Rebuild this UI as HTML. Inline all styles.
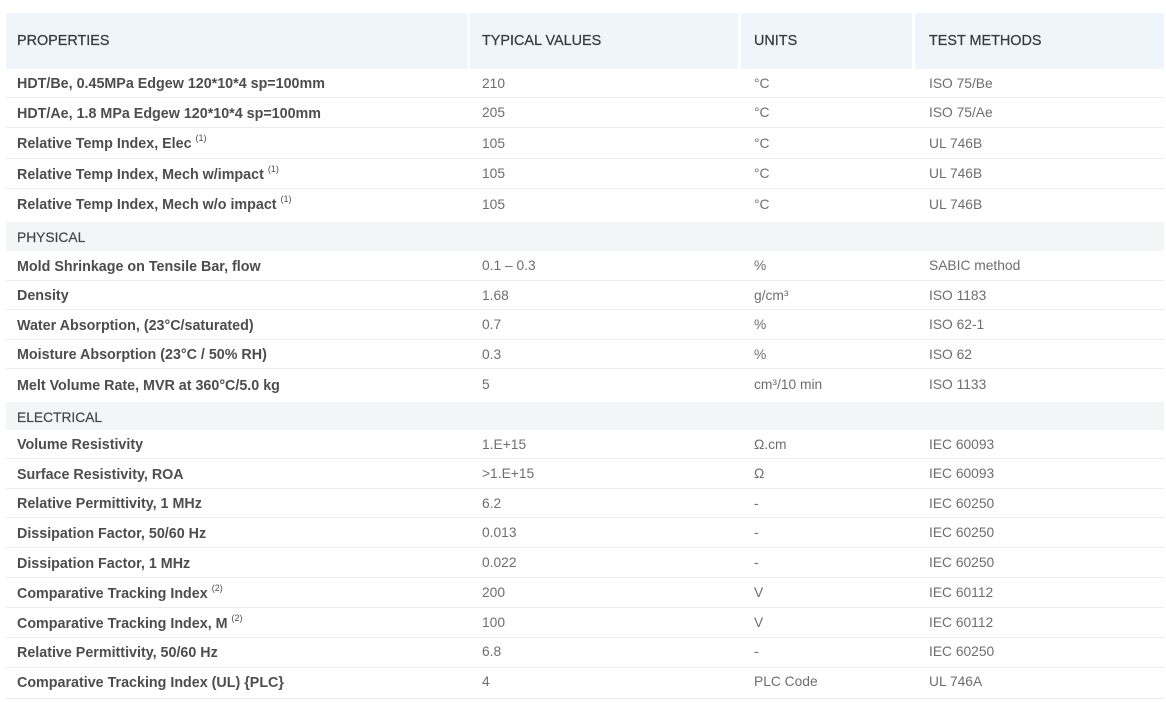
<!DOCTYPE html>
<html><head><meta charset="utf-8">
<style>
html,body{margin:0;padding:0;background:#fff;}
body{width:1166px;height:702px;overflow:hidden;position:relative;font-family:"Liberation Sans","DejaVu Sans",sans-serif;}
.h{position:absolute;top:13px;height:56px;line-height:57px;background:#eff6fb;color:#3a3a3a;font-size:14.4px;box-sizing:border-box;-webkit-text-stroke:0.25px #3a3a3a;}
.r{position:absolute;left:6px;width:1158px;}
.r div{position:absolute;top:0;height:100%;white-space:nowrap;}
.r .c1{left:11px;top:1px;font-weight:bold;color:#4d4d4d;font-size:14.3px;}
.c2{left:476px;color:#6e6e6e;font-size:13.8px;}
.c3{left:748px;color:#6e6e6e;font-size:13.8px;}
.c4{left:923px;color:#6e6e6e;font-size:13.8px;}
.sec{background:#f4f5f6;}
.sec .c1{font-weight:normal;color:#454545;font-size:13.8px;-webkit-text-stroke:0.2px #454545;}
.ln{position:absolute;left:6px;width:1158px;height:1px;background:#ebebeb;}
sup{font-size:9px;font-weight:normal;vertical-align:baseline;position:relative;top:-7px;line-height:0;margin-left:4px;}
</style></head><body>
<div class="h" style="left:6px;width:461px;padding-left:11px;">PROPERTIES</div>
<div class="h" style="left:470px;width:268px;padding-left:12px;">TYPICAL VALUES</div>
<div class="h" style="left:741px;width:171px;padding-left:13px;">UNITS</div>
<div class="h" style="left:915px;width:249px;padding-left:14px;">TEST METHODS</div>

<div class="r" style="top:69px;height:28px;line-height:29px;"><div class="c1">HDT/Be, 0.45MPa Edgew 120*10*4 sp=100mm</div><div class="c2">210</div><div class="c3">°C</div><div class="c4">ISO 75/Be</div></div>
<div class="ln" style="top:97px"></div>
<div class="r" style="top:98px;height:29px;line-height:30px;"><div class="c1">HDT/Ae, 1.8 MPa Edgew 120*10*4 sp=100mm</div><div class="c2">205</div><div class="c3">°C</div><div class="c4">ISO 75/Ae</div></div>
<div class="ln" style="top:127px"></div>
<div class="r" style="top:128px;height:30px;line-height:31px;"><div class="c1">Relative Temp Index, Elec<sup>(1)</sup></div><div class="c2">105</div><div class="c3">°C</div><div class="c4">UL 746B</div></div>
<div class="ln" style="top:158px"></div>
<div class="r" style="top:159px;height:29px;line-height:30px;"><div class="c1">Relative Temp Index, Mech w/impact<sup>(1)</sup></div><div class="c2">105</div><div class="c3">°C</div><div class="c4">UL 746B</div></div>
<div class="ln" style="top:188px"></div>
<div class="r" style="top:189px;height:31px;line-height:31px;"><div class="c1">Relative Temp Index, Mech w/o impact<sup>(1)</sup></div><div class="c2">105</div><div class="c3">°C</div><div class="c4">UL 746B</div></div>

<div class="r sec" style="top:222px;height:29px;line-height:30px;"><div class="c1">PHYSICAL</div></div>
<div class="r" style="top:251px;height:29px;line-height:30px;"><div class="c1">Mold Shrinkage on Tensile Bar, flow</div><div class="c2">0.1 – 0.3</div><div class="c3">%</div><div class="c4">SABIC method</div></div>
<div class="ln" style="top:280px"></div>
<div class="r" style="top:281px;height:28px;line-height:29px;"><div class="c1">Density</div><div class="c2">1.68</div><div class="c3">g/cm³</div><div class="c4">ISO 1183</div></div>
<div class="ln" style="top:309px"></div>
<div class="r" style="top:310px;height:29px;line-height:30px;"><div class="c1">Water Absorption, (23°C/saturated)</div><div class="c2">0.7</div><div class="c3">%</div><div class="c4">ISO 62-1</div></div>
<div class="ln" style="top:339px"></div>
<div class="r" style="top:340px;height:28px;line-height:29px;"><div class="c1">Moisture Absorption (23°C / 50% RH)</div><div class="c2">0.3</div><div class="c3">%</div><div class="c4">ISO 62</div></div>
<div class="ln" style="top:368px"></div>
<div class="r" style="top:369px;height:32px;line-height:32px;"><div class="c1">Melt Volume Rate, MVR at 360°C/5.0 kg</div><div class="c2">5</div><div class="c3">cm³/10 min</div><div class="c4">ISO 1133</div></div>

<div class="r sec" style="top:402px;height:28px;line-height:29px;"><div class="c1">ELECTRICAL</div></div>
<div class="r" style="top:430px;height:28px;line-height:29px;"><div class="c1">Volume Resistivity</div><div class="c2">1.E+15</div><div class="c3">Ω.cm</div><div class="c4">IEC 60093</div></div>
<div class="ln" style="top:458px"></div>
<div class="r" style="top:459px;height:29px;line-height:30px;"><div class="c1">Surface Resistivity, ROA</div><div class="c2">&gt;1.E+15</div><div class="c3">Ω</div><div class="c4">IEC 60093</div></div>
<div class="ln" style="top:488px"></div>
<div class="r" style="top:489px;height:28px;line-height:29px;"><div class="c1">Relative Permittivity, 1 MHz</div><div class="c2">6.2</div><div class="c3">-</div><div class="c4">IEC 60250</div></div>
<div class="ln" style="top:517px"></div>
<div class="r" style="top:518px;height:29px;line-height:30px;"><div class="c1">Dissipation Factor, 50/60 Hz</div><div class="c2">0.013</div><div class="c3">-</div><div class="c4">IEC 60250</div></div>
<div class="ln" style="top:547px"></div>
<div class="r" style="top:548px;height:29px;line-height:30px;"><div class="c1">Dissipation Factor, 1 MHz</div><div class="c2">0.022</div><div class="c3">-</div><div class="c4">IEC 60250</div></div>
<div class="ln" style="top:577px"></div>
<div class="r" style="top:578px;height:29px;line-height:30px;"><div class="c1">Comparative Tracking Index<sup>(2)</sup></div><div class="c2">200</div><div class="c3">V</div><div class="c4">IEC 60112</div></div>
<div class="ln" style="top:607px"></div>
<div class="r" style="top:608px;height:29px;line-height:30px;"><div class="c1">Comparative Tracking Index, M<sup>(2)</sup></div><div class="c2">100</div><div class="c3">V</div><div class="c4">IEC 60112</div></div>
<div class="ln" style="top:637px"></div>
<div class="r" style="top:638px;height:29px;line-height:28px;"><div class="c1">Relative Permittivity, 50/60 Hz</div><div class="c2">6.8</div><div class="c3">-</div><div class="c4">IEC 60250</div></div>
<div class="ln" style="top:667px"></div>
<div class="r" style="top:668px;height:29px;line-height:28px;"><div class="c1">Comparative Tracking Index (UL) {PLC}</div><div class="c2">4</div><div class="c3">PLC Code</div><div class="c4">UL 746A</div></div>
<div class="ln" style="top:698px"></div>
</body></html>
